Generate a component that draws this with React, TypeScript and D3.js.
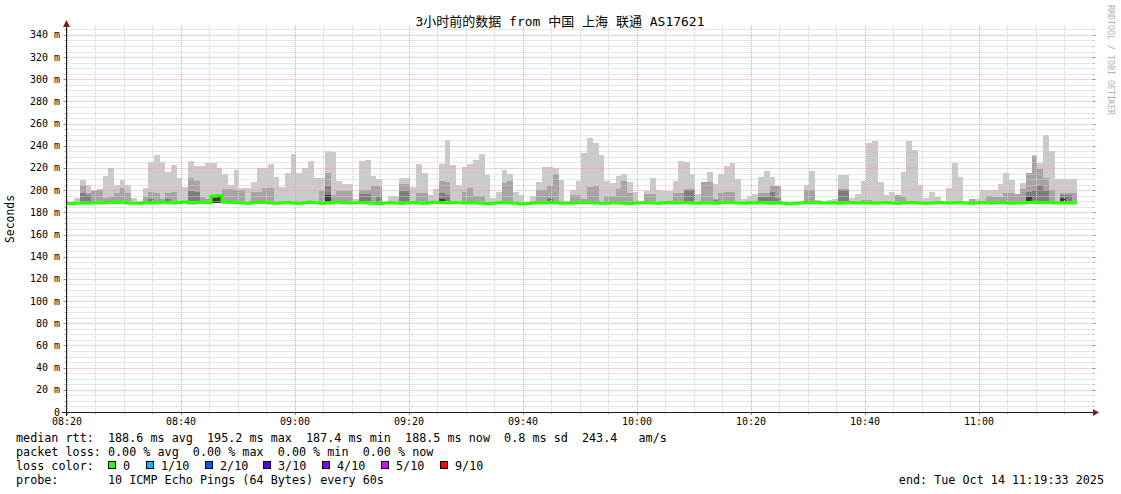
import React from 'react';
import * as d3 from 'd3';

const W = 1121;
const H = 494;

// one column per minute, first column starts 08:19:16
const columnStart = new Date(2025, 9, 14, 8, 19, 16);

// median rtt (ms) per column
const medianRtt = [
  188.2, 188.0, 188.3, 188.1, 188.2, 188.6, 188.4, 188.9, 189.2, 188.7,
  189.0, 188.5, 188.3, 188.2, 188.9, 188.4, 188.7, 189.1, 188.6, 188.4,
  188.8, 189.3, 188.5, 188.7, 189.0, 188.6, 194.6, 195.2, 189.4, 188.9,
  188.7, 188.4, 188.2, 188.9, 189.1, 188.8, 188.5, 188.3, 188.6, 188.9,
  188.4, 188.2, 188.7, 189.0, 188.6, 188.3, 188.5, 188.9, 189.2, 188.7,
  188.4, 188.6, 188.8, 188.5, 188.2, 188.0, 188.4, 188.7, 188.5, 188.3,
  188.6, 188.9, 188.4, 188.2, 188.8, 189.1, 188.7, 188.5, 188.9, 188.6,
  188.4, 188.8, 188.5, 188.3, 187.8, 188.2, 188.6, 188.9, 188.4, 188.1,
  187.6, 188.0, 188.4, 188.7, 188.5, 188.9, 188.6, 188.3, 188.2, 188.5,
  188.7, 188.9, 188.6, 188.4, 188.1, 188.3, 188.7, 188.5, 188.2, 188.0,
  188.4, 188.6, 188.9, 188.5, 188.3, 188.6, 188.8, 188.4, 188.6, 188.9,
  188.5, 188.3, 188.7, 188.4, 188.2, 188.6, 188.9, 188.7, 188.4, 188.3,
  188.6, 188.4, 188.8, 188.5, 188.3, 188.7, 188.1, 187.8, 188.2, 188.4,
  188.9, 188.6, 188.8, 188.5, 188.4, 188.7, 188.3, 188.6, 188.9, 188.5,
  188.7, 188.4, 188.2, 188.6, 188.8, 188.5, 188.3, 188.7, 188.9, 188.6,
  188.4, 188.2, 188.5, 188.8, 188.6, 188.4, 188.7, 188.9, 188.5, 188.3,
  188.6, 188.8, 188.4, 188.7, 188.9, 188.5, 188.3, 188.6, 188.4, 188.8,
  189.0, 188.7, 188.9, 188.6, 188.4, 188.7, 188.5, 188.5,
];

// slowest ping per column (outer smoke)
const smokeMax = [
  null, null, 192.7, 209.2, 204.7, 200.2, 200.8, 213.1, 220.0, 204.7,
  209.2, 204.7, 193.3, 190.3, 202.0, 225.4, 232.1, 225.4, 216.4, 223.0,
  211.0, 203.2, 226.3, 222.1, 222.1, 224.2, 224.5, 220.0, 214.9, 205.0,
  218.2, 201.7, 202.3, 207.7, 219.7, 220.3, 223.3, 212.2, 203.2, 215.2,
  232.7, 215.8, 220.3, 226.3, 210.7, 210.7, 235.4, 234.2, 208.3, 205.3,
  205.3, 191.8, 226.3, 227.2, 213.1, 210.1, null, 194.8, 194.8, 211.0,
  211.0, 203.2, 223.9, 215.2, 195.7, 200.8, 223.9, 245.3, 222.7, 204.7,
  220.9, 223.9, 227.2, 232.7, 213.7, 192.7, 198.4, 218.2, 214.3, 198.7,
  195.7, null, 194.8, 207.4, 220.9, 220.9, 219.7, 209.2, 190.6, 200.2,
  208.5, 233.3, 247.4, 242.9, 231.8, 208.3, 206.2, 213.1, 214.6, 207.7,
  198.7, null, 199.3, 210.7, 200.2, 199.6, 199.3, 208.3, 226.3, 225.1,
  214.6, 196.3, 207.7, 216.1, 205.6, 214.6, 221.8, 224.2, 209.8, 191.8,
  194.8, 196.6, 212.2, 217.6, 212.2, 204.1, null, null, null, null,
  204.7, 217.6, 191.2, 190.3, 191.2, 191.8, 213.7, 213.7, 192.7, 196.6,
  208.3, 242.3, 244.4, 207.7, 195.7, 198.7, 194.8, 216.1, 244.4, 236.3,
  204.7, 192.7, 198.4, 194.2, null, 201.7, 224.2, 211.9, null, 192.0,
  192.0, 199.9, 199.9, 199.9, 205.6, 215.5, 209.2, 196.6, 206.5, 215.2,
  231.8, 224.2, 249.8, 235.4, 209.8, 209.8, 209.8, 209.8,
];

// second slowest ping per column
const smokeP9 = [
  null, null, null, 205.0, 197.0, 199.6, 200.2, 192.7, 194.2, 197.8,
  201.7, 197.2, null, null, 194.0, 198.7, 197.2, 192.0, 197.8, 198.7,
  null, null, 211.0, 208.3, 194.2, 192.0, 196.0, 196.0, 201.4, 200.8,
  200.2, 200.2, null, 198.4, 198.4, 201.7, 201.7, null, null, null,
  null, null, null, null, null, 199.0, 215.8, 196.0, 199.3, 199.3,
  199.0, null, 200.2, 200.2, 203.8, 203.8, null, null, null, 205.6,
  205.6, null, 197.2, 197.2, null, null, 208.3, 207.1, null, null,
  198.7, 202.0, 194.8, 194.8, null, null, null, 206.8, 208.3, null,
  null, null, null, 200.2, 200.2, 203.8, 214.6, null, null, 195.7,
  195.7, 192.0, 203.2, 203.8, null, 194.8, 194.8, 200.8, 208.3, 197.2,
  null, null, 196.6, 196.6, null, null, null, 197.8, 197.2, 201.1,
  201.1, null, 207.7, 207.7, 192.0, 197.0, 198.7, 198.7, null, null,
  null, null, 197.2, 197.2, 204.1, 204.1, null, null, null, null,
  200.2, 200.2, null, null, null, null, 200.8, 200.8, null, null,
  191.0, 191.0, 190.5, null, null, null, 195.7, 194.0, null, null,
  null, null, null, null, null, null, null, null, null, 192.0,
  null, null, 195.0, 193.9, 193.9, 197.0, 197.0, 196.6, 200.8, 215.2,
  230.9, 219.4, 210.7, 200.2, null, 197.8, 197.2, 197.2,
];

// third slowest ping, only where it shows (column index -> ms)
const smokeP8: Record<number, number> = {
  3: 197.8, 4: 196.0, 15: 192.0, 18: 192.0, 22: 199.0, 23: 198.0,
  26: 195.5, 27: 195.0, 46: 203.8, 52: 196.6, 53: 196.6, 55: 194.0,
  59: 199.6, 60: 199.6, 66: 197.8, 67: 196.0, 85: 193.0, 109: 200.5,
  110: 200.5, 114: 191.0, 122: 194.0, 123: 194.0, 124: 198.0, 125: 193.0,
  136: 200.0, 137: 200.0, 169: 198.0, 170: 200.0, 171: 205.0, 172: 200.0,
  175: 196.0, 176: 196.0,
};

// inner pair, only where it shows
const smokeP7: Record<number, number> = {
  26: 195.3, 27: 195.0, 46: 196.0, 66: 192.0, 169: 194.0, 175: 193.0,
};

// fastest ping where it sits visibly below the median
const smokeLow: Record<number, number> = {
  26: 188.0, 27: 188.0, 169: 188.0,
};

const yMajorTicks = [0, 20, 40, 60, 80, 100, 120, 140, 160, 180, 200, 220, 240, 260, 280, 300, 320, 340];
const xMajorLabels = ['08:20', '08:40', '09:00', '09:20', '09:40', '10:00', '10:20', '10:40', '11:00'];

const lossLegend = [
  { label: '0', color: '#26ff00' },
  { label: '1/10', color: '#00b8ff' },
  { label: '2/10', color: '#0059ff' },
  { label: '3/10', color: '#5e00ff' },
  { label: '4/10', color: '#7e00ff' },
  { label: '5/10', color: '#dd00ff' },
  { label: '9/10', color: '#ff0000' },
];

const legendLines = [
  'median rtt:  188.6 ms avg  195.2 ms max  187.4 ms min  188.5 ms now  0.8 ms sd  243.4   am/s',
  'packet loss: 0.00 % avg  0.00 % max  0.00 % min  0.00 % now',
  'loss color:',
  'probe:       10 ICMP Echo Pings (64 Bytes) every 60s',
];

const mono = "'DejaVu Sans Mono', monospace";

export default function App() {
  const plotLeft = 66.5;
  const plotRight = 1092.5;
  const plotTop = 26;
  const plotBottom = 412;
  const t0 = new Date(2025, 9, 14, 8, 19, 55);
  const t1 = new Date(2025, 9, 14, 11, 19, 55);

  const x = d3.scaleTime().domain([t0, t1]).range([plotLeft, plotRight]);
  const y = d3.scaleLinear().domain([0, 348]).range([plotBottom, plotTop]);

  const at = (m: number) => new Date(2025, 9, 14, 8, 20 + m);
  const crisp = (v: number) => Math.round(v) + 0.5;

  const cols = medianRtt.map((m, i) => {
    const s = new Date(+columnStart + i * 60000);
    const e = new Date(+columnStart + (i + 1) * 60000);
    return {
      x0: Math.round(Math.max(x(s), plotLeft)),
      x1: Math.round(x(e)),
      median: m,
      low: smokeLow[i] ?? m,
      layers: [
        { v: smokeMax[i], c: '#cacaca' },
        { v: smokeP9[i], c: '#a4a4a4' },
        { v: smokeP8[i] ?? null, c: '#7e7e7e' },
        { v: smokeP7[i] ?? null, c: '#3c3c3c' },
      ],
    };
  });

  const medPts: [number, number][] = cols.map((c) => [c.x0, y(c.median)]);
  medPts.push([cols[cols.length - 1].x1, y(cols[cols.length - 1].median)]);
  const medPath = d3.line().curve(d3.curveStepAfter)(medPts) || '';

  const minorY = d3.range(5, 350, 5).filter((v) => v % 20 !== 0);
  const majorY = d3.range(20, 341, 20);
  const minorX = d3.range(5, 180, 5).filter((m) => m % 20 !== 0).map(at).filter((d) => x(d) < plotRight);
  const majorX = d3.range(0, 180, 20).map(at);

  const gridMinor = { stroke: '#cfcfcf', strokeDasharray: '1 1' };
  const gridMajor = { stroke: '#f0a0a0', strokeDasharray: '1 1' };

  const cw = 7.08;
  let lx = 16 + 13 * cw;
  const lossItems = lossLegend.map((d) => {
    const item = { ...d, bx: Math.round(lx) };
    lx = lx + 15 + d.label.length * cw + 2.2 * cw;
    return item;
  });

  const legendY = [442, 456, 470, 484];

  return (
    <svg width={W} height={H} style={{ position: 'absolute', left: 0, top: 0, background: '#fff' }}>
      <rect x={0} y={0} width={W} height={H} fill="#fff" />

      {/* smoke */}
      <g shapeRendering="crispEdges">
        {cols.map((c, i) =>
          c.layers.map((l, k) =>
            l.v == null ? null : (
              <rect key={`${i}-${k}`} x={c.x0} width={c.x1 - c.x0} y={y(l.v)} height={y(c.low) - y(l.v)} fill={l.c} />
            ),
          ),
        )}
      </g>

      {/* grid */}
      <g>
        {minorY.map((v) => (
          <line key={`my${v}`} x1={plotLeft} x2={plotRight} y1={crisp(y(v))} y2={crisp(y(v))} {...gridMinor} />
        ))}
        {minorX.map((d, i) => (
          <line key={`mx${i}`} x1={crisp(x(d))} x2={crisp(x(d))} y1={plotTop} y2={plotBottom} {...gridMinor} />
        ))}
        {majorY.map((v) => (
          <line key={`My${v}`} x1={plotLeft} x2={plotRight} y1={crisp(y(v))} y2={crisp(y(v))} {...gridMajor} />
        ))}
        {majorX.map((d, i) => (
          <line key={`Mx${i}`} x1={crisp(x(d))} x2={crisp(x(d))} y1={plotTop} y2={plotBottom} {...gridMajor} />
        ))}
        {/* ticks at the ends of the grid lines */}
        {minorY.map((v) => (
          <g key={`ty${v}`} stroke="#b0b0b0">
            <line x1={plotLeft - 2} x2={plotLeft} y1={crisp(y(v))} y2={crisp(y(v))} />
            <line x1={plotRight} x2={plotRight + 2} y1={crisp(y(v))} y2={crisp(y(v))} />
          </g>
        ))}
        {majorY.map((v) => (
          <g key={`tY${v}`} stroke="#e07070">
            <line x1={plotLeft - 3} x2={plotLeft} y1={crisp(y(v))} y2={crisp(y(v))} />
            <line x1={plotRight} x2={plotRight + 3} y1={crisp(y(v))} y2={crisp(y(v))} />
          </g>
        ))}
        {minorX.map((d, i) => (
          <line key={`tx${i}`} x1={crisp(x(d))} x2={crisp(x(d))} y1={plotBottom} y2={plotBottom + 2} stroke="#b0b0b0" />
        ))}
        {majorX.map((d, i) => (
          <line key={`tX${i}`} x1={crisp(x(d))} x2={crisp(x(d))} y1={plotBottom} y2={plotBottom + 3} stroke="#e07070" />
        ))}
      </g>

      {/* median */}
      <path d={medPath} fill="none" stroke="#26ff00" strokeWidth={3} />

      {/* axes */}
      <g shapeRendering="crispEdges">
        <line x1={62} x2={1094} y1={plotBottom + 0.5} y2={plotBottom + 0.5} stroke="#1f1f1f" />
        <line x1={plotLeft} x2={plotLeft} y1={plotBottom + 4} y2={24} stroke="#1f1f1f" />
      </g>
      <polygon points={`1093,${plotBottom - 3} 1099,${plotBottom + 0.5} 1093,${plotBottom + 4}`} fill="#7f1f1f" />
      <polygon points={`${plotLeft - 3.5},27 ${plotLeft},20 ${plotLeft + 3.5},27`} fill="#7f1f1f" />

      {/* axis labels */}
      <g fontFamily={mono} fontSize={10} fill="#000">
        {yMajorTicks.map((v) => (
          <text key={`yl${v}`} x={60} y={y(v) + 3.5} textAnchor="end" xmlSpace="preserve">
            {v === 0 ? '0' : `${v} m`}
          </text>
        ))}
        {xMajorLabels.map((s, i) => (
          <text key={`xl${s}`} x={x(at(i * 20))} y={424.5} textAnchor="middle">
            {s}
          </text>
        ))}
      </g>

      <text x={560} y={25.5} textAnchor="middle" fontFamily={`${mono}, 'Noto Sans CJK SC'`} fontSize={13} fill="#000" xmlSpace="preserve">
        3小时前的数据 from 中国 上海 联通 AS17621
      </text>

      <text transform="translate(14,219) rotate(-90)" textAnchor="middle" fontFamily={mono} fontSize={11.4} fill="#000">
        Seconds
      </text>

      <text transform="translate(1108,5) rotate(90)" fontFamily={mono} fontSize={8.3} fill="#b0b0b0" xmlSpace="preserve">
        RRDTOOL / TOBI OETIKER
      </text>

      {/* legend */}
      <g fontFamily={mono} fontSize={11.75} fill="#000">
        {legendLines.map((s, i) => (
          <text key={`lg${i}`} x={16} y={legendY[i]} xmlSpace="preserve">
            {s}
          </text>
        ))}
        {lossItems.map((d) => (
          <g key={d.label}>
            <rect x={d.bx + 0.5} y={legendY[2] - 8.5} width={7} height={7} fill={d.color} stroke="#000" shapeRendering="crispEdges" />
            <text x={d.bx + 15} y={legendY[2]}>
              {d.label}
            </text>
          </g>
        ))}
        <text x={1104} y={legendY[3]} textAnchor="end" xmlSpace="preserve">
          end: Tue Oct 14 11:19:33 2025
        </text>
      </g>
    </svg>
  );
}
